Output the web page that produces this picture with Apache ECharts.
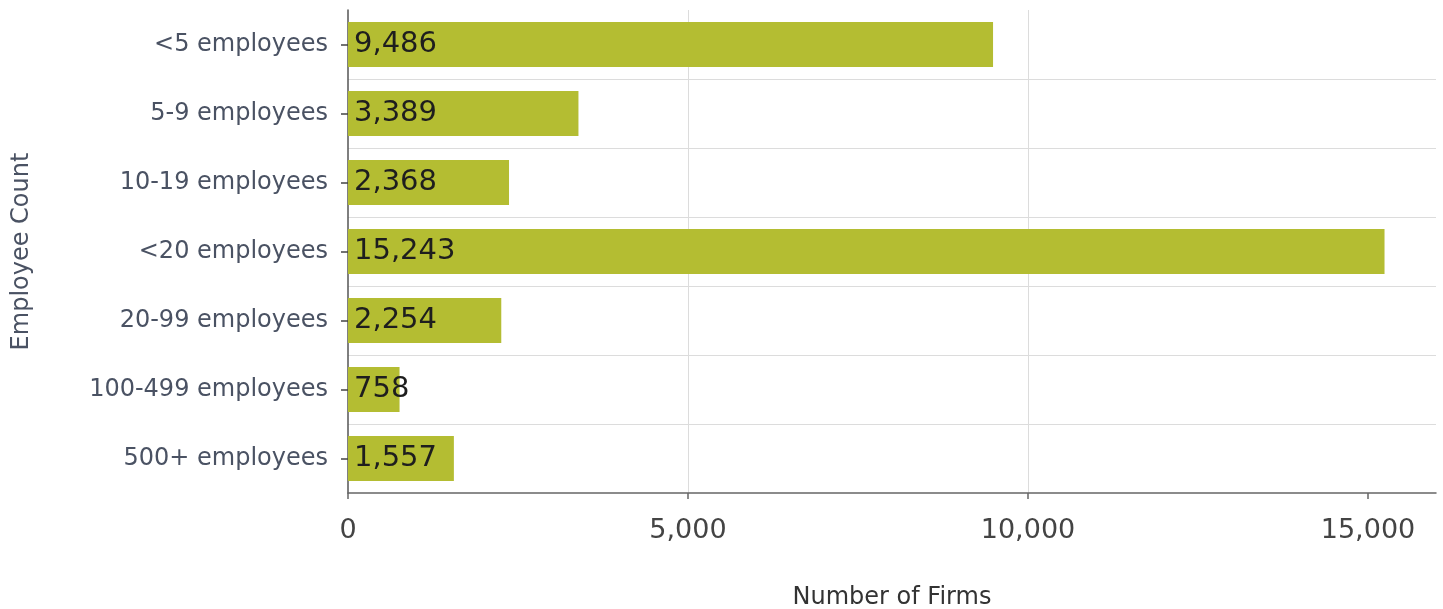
<!DOCTYPE html>
<html>
<head>
<meta charset="utf-8">
<script src="https://cdn.jsdelivr.net/npm/echarts@6/dist/echarts.min.js"></script>
<style>
html,body{margin:0;padding:0;background:#fff;}
#chart{width:1443px;height:609px;}
</style>
</head>
<body>
<div id="chart"></div>
<script>
const categories = ['<5 employees','5-9 employees','10-19 employees','<20 employees','20-99 employees','100-499 employees','500+ employees'];
const firmCounts = [9486, 3389, 2368, 15243, 2254, 758, 1557];
const xTicks = [0, 5000, 10000, 15000];

const FONT = 'DejaVu Sans';
const chart = echarts.init(document.getElementById('chart'), null, {renderer:'canvas'});
chart.setOption({
  animation:false,
  backgroundColor:'#fff',
  grid:{left:348, right:7, top:10, bottom:116, containLabel:false, outerBoundsMode:'none'},
  xAxis:{
    type:'value', min:0, max:16000, interval:5000,
    name:'Number of Firms', nameLocation:'middle', nameGap:93,
    nameTextStyle:{fontFamily:FONT, fontSize:24, color:'#333'},
    axisLine:{show:true, lineStyle:{color:'#666', width:1.5}},
    axisTick:{show:true, length:6, customValues:xTicks, lineStyle:{color:'#666', width:1.5}},
    axisLabel:{fontFamily:FONT, fontSize:27, color:'#444', margin:24, customValues:xTicks,
      formatter:v => xTicks.includes(v) ? v.toLocaleString('en-US') : ''},
    splitLine:{show:true, showMinLine:false, showMaxLine:false, lineStyle:{color:'#dcdcdc', width:1}}
  },
  yAxis:{
    type:'category', data:categories, inverse:true,
    name:'Employee Count', nameLocation:'middle', nameGap:314,
    nameTextStyle:{fontFamily:FONT, fontSize:24, color:'#4a5263'},
    axisLine:{show:true, lineStyle:{color:'#555', width:1.5}},
    axisTick:{show:true, alignWithLabel:true, length:7, lineStyle:{color:'#444', width:1.5}},
    axisLabel:{fontFamily:FONT, fontSize:24, color:'#4a5263', margin:20},
    splitLine:{show:true, showMinLine:false, showMaxLine:false, lineStyle:{color:'#dcdcdc', width:1}}
  },
  series:[{
    type:'bar', data:firmCounts, barWidth:'65%',
    itemStyle:{color:'#b4bd32'},
    label:{show:true, position:'insideLeft', distance:6, fontFamily:FONT, fontSize:29, color:'#1e1e1e',
      formatter:p => p.value.toLocaleString('en-US')}
  }]
});
</script>
</body>
</html>
